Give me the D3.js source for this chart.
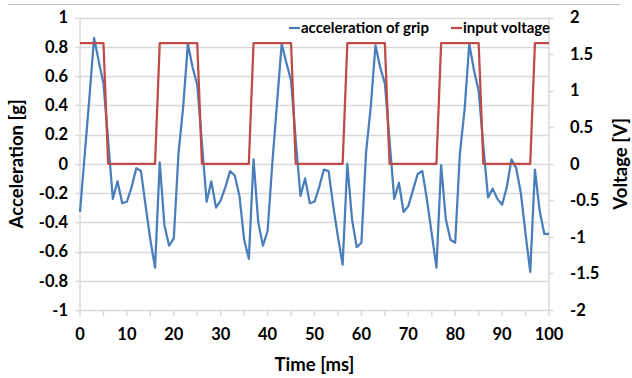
<!DOCTYPE html>
<html>
<head>
<meta charset="utf-8">
<script src="https://cdn.jsdelivr.net/npm/d3@7"></script>
<style>
  body { margin: 0; background: #fff; }
  text { font-family: Lato, "Open Sans", sans-serif; font-weight: bold; fill: #000; }
</style>
</head>
<body>
<div id="chart"></div>
<script>
// time in ms, sampled every 1 ms
const accel = [
  -0.33, 0.06, 0.45, 0.86, 0.70, 0.55, 0.16, -0.24, -0.12, -0.27,
  -0.26, -0.16, -0.03, -0.05, -0.29, -0.52, -0.71, 0.01, -0.42, -0.56,
  -0.51, 0.07, 0.39, 0.82, 0.66, 0.54, 0.14, -0.26, -0.12, -0.30,
  -0.25, -0.16, -0.05, -0.08, -0.22, -0.52, -0.65, 0.03, -0.40, -0.56,
  -0.46, 0.00, 0.41, 0.82, 0.69, 0.57, 0.16, -0.22, -0.10, -0.27,
  -0.26, -0.16, -0.04, -0.05, -0.29, -0.50, -0.69, 0.00, -0.38, -0.57,
  -0.54, 0.08, 0.39, 0.81, 0.66, 0.55, 0.16, -0.24, -0.13, -0.33,
  -0.29, -0.18, -0.07, -0.05, -0.25, -0.48, -0.71, -0.01, -0.38, -0.52,
  -0.54, 0.07, 0.37, 0.82, 0.64, 0.50, 0.12, -0.23, -0.17, -0.24,
  -0.28, -0.16, 0.03, -0.03, -0.20, -0.48, -0.74, -0.04, -0.32, -0.48,
  -0.48
];

// input voltage corners (time ms, volts)
const voltTime = [0, 5, 6, 16, 17, 25, 26, 36, 37, 45, 46, 56, 57, 65, 66, 76, 77, 85, 86, 96, 97, 100];
const voltVal  = [1.65, 1.65, 0, 0, 1.65, 1.65, 0, 0, 1.65, 1.65, 0, 0, 1.65, 1.65, 0, 0, 1.65, 1.65, 0, 0, 1.65, 1.65];

const xTicks = [0, 10, 20, 30, 40, 50, 60, 70, 80, 90, 100];
const xMinorTicks = [5, 15, 25, 35, 45, 55, 65, 75, 85, 95];
const yLeftTicks = [-1, -0.8, -0.6, -0.4, -0.2, 0, 0.2, 0.4, 0.6, 0.8, 1];
const yRightTicks = [-2, -1.5, -1, -0.5, 0, 0.5, 1, 1.5, 2];
const seriesNames = ["acceleration of grip", "input voltage"];

const width = 632, height = 378;
const blue = "#4a7ebb", red = "#be4b48";
const grid = "#d9d9d9";

const svg = d3.select("#chart").append("svg")
  .attr("width", width)
  .attr("height", height);

const x = d3.scaleLinear().domain([0, 100]).range([80, 549]);
const yL = d3.scaleLinear().domain([-1, 1]).range([310, 17.5]);
const yR = d3.scaleLinear().domain([-2, 2]).range([310, 17.5]);

// top frame line
svg.append("line")
  .attr("x1", 8).attr("x2", 620)
  .attr("y1", 4.5).attr("y2", 4.5)
  .attr("stroke", "#bfbfbf");

// gridlines
svg.append("g").selectAll("line")
  .data(yLeftTicks)
  .enter().append("line")
  .attr("x1", x(0) - 5).attr("x2", x(100))
  .attr("y1", d => Math.round(yL(d)) + 0.5)
  .attr("y2", d => Math.round(yL(d)) + 0.5)
  .attr("stroke", grid)
  .attr("stroke-width", 1.5);

// axis lines
svg.append("line")
  .attr("x1", x(0)).attr("x2", x(0))
  .attr("y1", yL(1)).attr("y2", yL(-1))
  .attr("stroke", grid).attr("stroke-width", 1.5);
svg.append("line")
  .attr("x1", x(100)).attr("x2", x(100))
  .attr("y1", yR(2)).attr("y2", yR(-2))
  .attr("stroke", grid).attr("stroke-width", 1.5);

// right axis ticks
svg.append("g").selectAll("line")
  .data(yRightTicks)
  .enter().append("line")
  .attr("x1", x(100)).attr("x2", x(100) + 5)
  .attr("y1", d => Math.round(yR(d)) + 0.5)
  .attr("y2", d => Math.round(yR(d)) + 0.5)
  .attr("stroke", grid).attr("stroke-width", 1.5);

// x ticks
svg.append("g").selectAll("line")
  .data(xTicks.concat(xMinorTicks))
  .enter().append("line")
  .attr("x1", d => x(d)).attr("x2", d => x(d))
  .attr("y1", yL(-1)).attr("y2", yL(-1) + 6)
  .attr("stroke", grid).attr("stroke-width", 1.5);

// tick labels
svg.append("g").selectAll("text")
  .data(yLeftTicks)
  .enter().append("text")
  .attr("x", 68)
  .attr("y", d => yL(d))
  .attr("dy", "0.35em")
  .attr("text-anchor", "end")
  .style("font-size", "16.5px")
  .text(d => d3.format("")(d).replace("−", "-"));

svg.append("g").selectAll("text")
  .data(yRightTicks)
  .enter().append("text")
  .attr("x", 570)
  .attr("y", d => yR(d))
  .attr("dy", "0.35em")
  .style("font-size", "16.5px")
  .text(d => d3.format("")(d).replace("−", "-"));

svg.append("g").selectAll("text")
  .data(xTicks)
  .enter().append("text")
  .attr("x", d => x(d))
  .attr("y", 340)
  .attr("text-anchor", "middle")
  .style("font-size", "16.5px")
  .text(d => d);

// axis titles
svg.append("text")
  .attr("x", (x(0) + x(100)) / 2)
  .attr("y", 371)
  .attr("text-anchor", "middle")
  .style("font-size", "18.5px")
  .text("Time [ms]");

svg.append("text")
  .attr("transform", "translate(23," + yL(0) + ") rotate(-90)")
  .attr("text-anchor", "middle")
  .style("font-size", "18.5px")
  .text("Acceleration [g]");

svg.append("text")
  .attr("transform", "translate(627," + yL(0) + ") rotate(-90)")
  .attr("text-anchor", "middle")
  .style("font-size", "18.5px")
  .text("Voltage [V]");

// series
const accelLine = d3.line()
  .x((d, i) => x(i))
  .y(d => yL(d));

const voltLine = d3.line()
  .x(d => x(d[0]))
  .y(d => yR(d[1]));

svg.append("path")
  .datum(accel)
  .attr("d", accelLine)
  .attr("fill", "none")
  .attr("stroke", blue)
  .attr("stroke-width", 2.25)
  .attr("stroke-linejoin", "round");

svg.append("path")
  .datum(voltTime.map((t, i) => [t, voltVal[i]]))
  .attr("d", voltLine)
  .attr("fill", "none")
  .attr("stroke", red)
  .attr("stroke-width", 2.25)
  .attr("stroke-linejoin", "round");

// legend
const legendX = [289, 451];
const legend = svg.append("g").selectAll("g")
  .data(seriesNames)
  .enter().append("g")
  .attr("transform", (d, i) => "translate(" + legendX[i] + ",28)");

legend.append("line")
  .attr("x1", 0).attr("x2", 11)
  .attr("stroke", (d, i) => i ? red : blue)
  .attr("stroke-width", 2.25);

legend.append("text")
  .attr("x", 12)
  .attr("dy", "0.35em")
  .style("font-size", "15px")
  .text(d => d);
</script>
</body>
</html>
